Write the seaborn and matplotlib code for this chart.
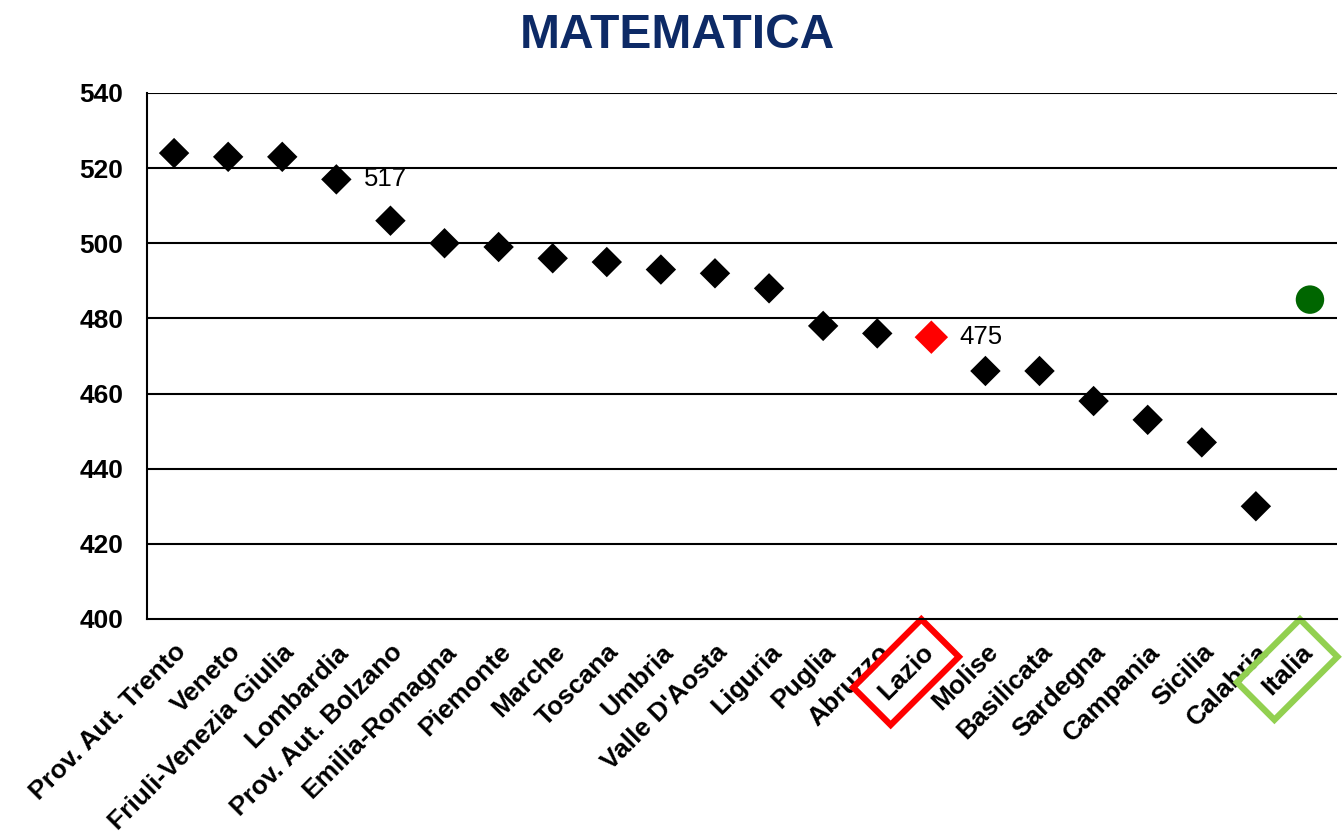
import numpy as np
import pandas as pd
import matplotlib
matplotlib.use("Agg")
import matplotlib.pyplot as plt
import matplotlib.transforms as mtransforms
import seaborn as sns

# dati
regioni = ["Prov. Aut. Trento", "Veneto", "Friuli-Venezia Giulia", "Lombardia",
           "Prov. Aut. Bolzano", "Emilia-Romagna", "Piemonte", "Marche", "Toscana",
           "Umbria", "Valle D'Aosta", "Liguria", "Puglia", "Abruzzo", "Lazio",
           "Molise", "Basilicata", "Sardegna", "Campania", "Sicilia", "Calabria", "Italia"]
punteggi = [524, 523, 523, 517, 506, 500, 499, 496, 495, 493, 492, 488, 478, 476, 475,
            466, 466, 458, 453, 447, 430, 485]
etichette_valore = {"Lombardia": "517", "Lazio": "475"}

sns.set_style("white")
plt.rcParams['font.family'] = ['Liberation Sans', 'DejaVu Sans']
plt.rcParams['text.color'] = 'black'
plt.rcParams['xtick.color'] = 'black'
plt.rcParams['ytick.color'] = 'black'

df = pd.DataFrame({"regione": regioni, "punteggio": punteggi})
df["x"] = np.arange(len(df))
df["gruppo"] = "altre"
df.loc[df.regione == "Lazio", "gruppo"] = "lazio"
df.loc[df.regione == "Italia", "gruppo"] = "italia"

fig = plt.figure(figsize=(13.44, 8.36), dpi=100)
ax = fig.add_axes([0.1094, 0.2596, 0.8854, 0.6292])

ax.set_axisbelow(True)
for y in range(420, 541, 20):
    ax.axhline(y, color="black", lw=1.5, zorder=0)

sns.scatterplot(data=df[df.gruppo == "altre"], x="x", y="punteggio", marker="D",
                s=240, color="black", edgecolor="none", ax=ax, zorder=3)
sns.scatterplot(data=df[df.gruppo == "lazio"], x="x", y="punteggio", marker="D",
                s=290, color="#FF0000", edgecolor="none", ax=ax, zorder=3)
sns.scatterplot(data=df[df.gruppo == "italia"], x="x", y="punteggio", marker="o",
                s=420, color="#006600", edgecolor="none", ax=ax, zorder=3)

for nome, testo in etichette_valore.items():
    r = df[df.regione == nome].iloc[0]
    ax.annotate(testo, (r.x, r.punteggio), xytext=(20, 0), textcoords="offset points",
                va="center", ha="left", fontsize=18.5)

ax.set_xlim(-0.5, len(regioni) - 0.5)
ax.set_ylim(400, 540)
ax.set_yticks(range(400, 541, 20))
ax.set_xticks(df.x)
ax.set_xticklabels(regioni, rotation=45, ha="right", rotation_mode="anchor",
                   fontsize=19, fontweight="bold")
ax.set_xticks(np.arange(-0.5, len(regioni)), minor=True)
ax.tick_params(axis="x", which="major", length=0, pad=15)
ax.tick_params(axis="x", which="minor", length=6, width=1.3, direction="out", color="black")
ax.tick_params(axis="y", length=7, width=1.3, direction="out", color="black", pad=10)
for t in ax.get_yticklabels():
    t.set_fontsize(19)
    t.set_fontweight("bold")
ax.set_xlabel("")
ax.set_ylabel("")

for s in ["top", "right"]:
    ax.spines[s].set_visible(False)
ax.spines["left"].set_color("black")
ax.spines["left"].set_linewidth(1.5)
ax.spines["bottom"].set_color("black")
ax.spines["bottom"].set_linewidth(1.5)

# riquadri attorno a Lazio e Italia
sposta = mtransforms.ScaledTranslation(-10 / 100, 0, fig.dpi_scale_trans)
for t in ax.get_xticklabels():
    if t.get_text() == "Lazio":
        t.set_bbox(dict(boxstyle="square,pad=0.55", fc="none", ec="#FF0000", lw=4.5))
        t.set_transform(t.get_transform() + sposta)
    if t.get_text() == "Italia":
        t.set_bbox(dict(boxstyle="square,pad=0.55", fc="none", ec="#92D050", lw=4.5))
        t.set_transform(t.get_transform() + sposta)

fig.text(0.504, 0.958, "MATEMATICA", ha="center", va="center", fontsize=34.5,
         fontweight="bold", color="#0D2A66")

fig.savefig("out.png", dpi=100)
